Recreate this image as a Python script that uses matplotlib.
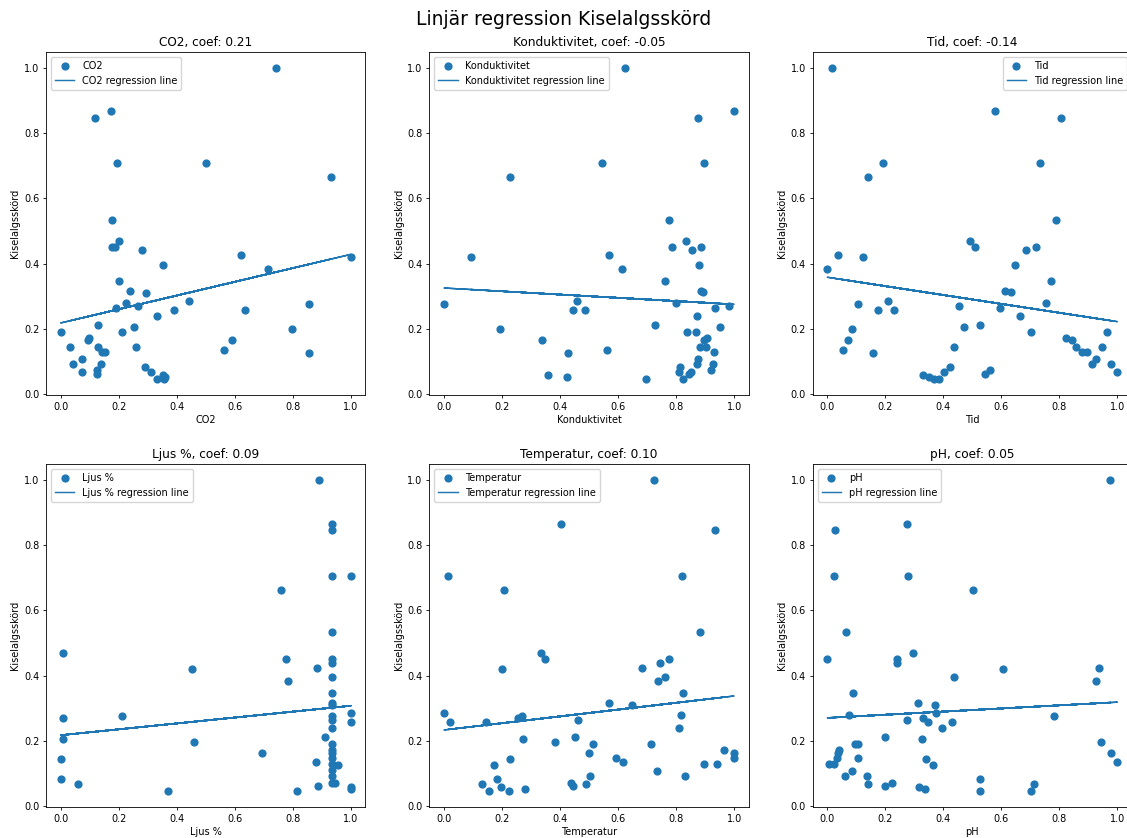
import matplotlib
matplotlib.use("Agg")
import numpy as np
import matplotlib.pyplot as plt

# ------------------------------------------------------------------
# Data (normalised 0-1)
# ------------------------------------------------------------------

features = ["CO2", "Konduktivitet", "Tid", "Ljus %", "Temperatur", "pH"]

co2_x = [0.741, 0.172, 0.118, 0.193, 0.502, 0.932, 0.176, 0.202, 0.178, 0.187,
         0.280, 0.621, 1.000, 0.351, 0.714, 0.202, 0.238, 0.294, 0.443, 0.225,
         0.855, 0.266, 0.189, 0.391, 0.636, 0.332, 0.130, 0.251, 0.798, 0.000,
         0.210, 0.099, 0.095, 0.590, 0.031, 0.130, 0.261, 0.141, 0.153, 0.564,
         0.855, 0.072, 0.041, 0.138, 0.292, 0.075, 0.124, 0.124, 0.311, 0.333,
         0.351, 0.360, 0.357]
co2_y = [1.000, 0.867, 0.847, 0.707, 0.707, 0.664, 0.533, 0.470, 0.451, 0.451,
         0.441, 0.425, 0.421, 0.396, 0.384, 0.348, 0.315, 0.311, 0.285, 0.279,
         0.275, 0.270, 0.265, 0.258, 0.258, 0.238, 0.213, 0.206, 0.198, 0.190,
         0.190, 0.172, 0.166, 0.166, 0.145, 0.145, 0.143, 0.129, 0.129, 0.135,
         0.125, 0.109, 0.092, 0.092, 0.084, 0.069, 0.074, 0.062, 0.069, 0.047,
         0.058, 0.051, 0.045]

kond_x = [0.622, 0.999, 0.876, 0.543, 0.896, 0.228, 0.774, 0.835, 0.784, 0.853,
          0.885, 0.092, 0.568, 0.878, 0.614, 0.761, 0.886, 0.893, 0.458, 0.800,
          0.000, 0.980, 0.444, 0.485, 0.933, 0.873, 0.726, 0.950, 0.193, 0.837,
          0.867, 0.907, 0.897, 0.339, 0.883, 0.901, 0.561, 0.929, 0.426, 0.876,
          0.870, 0.926, 0.813, 0.809, 0.918, 0.850, 0.844, 0.357, 0.425, 0.824,
          0.697]
kond_y = [1.000, 0.867, 0.847, 0.707, 0.707, 0.664, 0.533, 0.470, 0.451, 0.441,
          0.451, 0.421, 0.425, 0.396, 0.384, 0.348, 0.315, 0.312, 0.285, 0.279,
          0.275, 0.271, 0.258, 0.258, 0.265, 0.238, 0.213, 0.206, 0.198, 0.190,
          0.190, 0.172, 0.166, 0.166, 0.145, 0.145, 0.135, 0.129, 0.125, 0.109,
          0.092, 0.092, 0.084, 0.069, 0.074, 0.069, 0.063, 0.058, 0.051, 0.047,
          0.045]

tid_x = [0.016, 0.578, 0.807, 0.193, 0.735, 0.140, 0.788, 0.492, 0.509, 0.685,
         0.719, 0.036, 0.124, 0.648, 0.000, 0.772, 0.614, 0.632, 0.210, 0.753,
         0.106, 0.455, 0.175, 0.229, 0.595, 0.665, 0.525, 0.471, 0.086, 0.702,
         0.963, 0.823, 0.842, 0.070, 0.858, 0.946, 0.438, 0.053, 0.877, 0.896,
         0.159, 0.928, 0.911, 0.979, 0.422, 0.561, 1.000, 0.403, 0.544, 0.331,
         0.351, 0.385, 0.368]
tid_y = [1.000, 0.867, 0.847, 0.707, 0.707, 0.664, 0.533, 0.470, 0.451, 0.441,
         0.451, 0.425, 0.421, 0.396, 0.384, 0.348, 0.316, 0.312, 0.285, 0.279,
         0.275, 0.271, 0.258, 0.258, 0.265, 0.238, 0.213, 0.206, 0.198, 0.190,
         0.190, 0.172, 0.166, 0.166, 0.145, 0.145, 0.143, 0.135, 0.129, 0.129,
         0.125, 0.109, 0.092, 0.092, 0.084, 0.074, 0.069, 0.069, 0.062, 0.058,
         0.051, 0.047, 0.045]

ljus_x = [0.892, 0.937, 0.937, 0.937, 1.000, 0.761, 0.937, 0.007, 0.778, 0.937,
          0.937, 0.452, 0.885, 0.937, 0.782, 0.937, 0.937, 0.937, 1.000, 0.007,
          0.213, 0.937, 0.937, 1.000, 0.937, 0.910, 0.007, 0.459, 0.937, 0.937,
          0.937, 0.695, 0.937, 0.000, 0.879, 0.937, 0.955, 0.937, 0.937, 0.000,
          0.937, 0.946, 0.061, 0.886, 1.000, 1.000, 0.371, 0.816]
ljus_y = [1.000, 0.865, 0.846, 0.706, 0.706, 0.663, 0.533, 0.470, 0.451, 0.451,
          0.440, 0.420, 0.424, 0.395, 0.385, 0.348, 0.316, 0.310, 0.286, 0.271,
          0.276, 0.278, 0.263, 0.257, 0.239, 0.213, 0.206, 0.198, 0.191, 0.172,
          0.165, 0.165, 0.149, 0.144, 0.135, 0.130, 0.126, 0.111, 0.094, 0.084,
          0.073, 0.073, 0.069, 0.063, 0.058, 0.053, 0.048, 0.046]

temp_x = [0.723, 0.404, 0.935, 0.015, 0.820, 0.206, 0.881, 0.333, 0.348, 0.745,
          0.774, 0.200, 0.683, 0.762, 0.738, 0.824, 0.569, 0.649, 0.000, 0.254,
          0.270, 0.817, 0.020, 0.145, 0.460, 0.811, 0.451, 0.272, 0.381, 0.514,
          0.714, 0.966, 0.501, 0.999, 0.999, 0.226, 0.594, 0.615, 0.896, 0.939,
          0.173, 0.734, 0.503, 0.830, 0.182, 0.132, 0.436, 0.444, 0.489, 0.197,
          0.279, 0.154, 0.224]
temp_y = [1.000, 0.865, 0.846, 0.706, 0.706, 0.663, 0.533, 0.470, 0.451, 0.440,
          0.451, 0.420, 0.424, 0.395, 0.385, 0.348, 0.316, 0.310, 0.286, 0.271,
          0.276, 0.280, 0.257, 0.257, 0.264, 0.239, 0.213, 0.206, 0.198, 0.191,
          0.191, 0.172, 0.165, 0.165, 0.147, 0.144, 0.147, 0.135, 0.130, 0.130,
          0.126, 0.109, 0.092, 0.092, 0.084, 0.069, 0.073, 0.063, 0.069, 0.058,
          0.052, 0.048, 0.046]

ph_x = [0.975, 0.275, 0.026, 0.024, 0.279, 0.503, 0.063, 0.294, 0.000, 0.242,
        0.240, 0.607, 0.938, 0.436, 0.928, 0.089, 0.313, 0.373, 0.375, 0.075,
        0.782, 0.329, 0.276, 0.346, 0.431, 0.396, 0.200, 0.325, 0.096, 0.106,
        0.943, 0.041, 0.037, 0.978, 0.033, 0.106, 0.339, 0.007, 0.024, 1.000,
        0.366, 0.084, 0.062, 0.138, 0.525, 0.142, 0.711, 0.224, 0.200, 0.315,
        0.338, 0.528, 0.702]
ph_y = [1.000, 0.865, 0.846, 0.706, 0.706, 0.663, 0.533, 0.470, 0.451, 0.451,
        0.440, 0.420, 0.424, 0.395, 0.385, 0.348, 0.316, 0.310, 0.286, 0.280,
        0.276, 0.271, 0.264, 0.257, 0.257, 0.239, 0.213, 0.206, 0.191, 0.191,
        0.198, 0.172, 0.165, 0.165, 0.147, 0.147, 0.144, 0.130, 0.130, 0.135,
        0.126, 0.109, 0.092, 0.092, 0.084, 0.069, 0.069, 0.073, 0.063, 0.058,
        0.052, 0.046, 0.048]

# regression line per feature (slope, intercept)
slopes = [0.21, -0.05, -0.136, 0.09, 0.104, 0.048]
intercepts = [0.218, 0.325, 0.358, 0.218, 0.234, 0.271]

xs = [co2_x, kond_x, tid_x, ljus_x, temp_x, ph_x]
ys = [co2_y, kond_y, tid_y, ljus_y, temp_y, ph_y]
legend_locs = ["upper left", "upper left", "upper right",
               "upper left", "upper left", "upper left"]

# ------------------------------------------------------------------
# Plot (original was rendered larger and scaled down, so small fonts)
# ------------------------------------------------------------------

plt.rcParams["font.size"] = 7
plt.rcParams["axes.linewidth"] = 0.6
plt.rcParams["xtick.major.size"] = 2.5
plt.rcParams["ytick.major.size"] = 2.5
plt.rcParams["xtick.major.width"] = 0.6
plt.rcParams["ytick.major.width"] = 0.6
plt.rcParams["xtick.major.pad"] = 2.5
plt.rcParams["ytick.major.pad"] = 2.5

fig = plt.figure(figsize=(11.27, 8.38), dpi=100)
fig.suptitle("Linjär regression Kiselalgsskörd", fontsize=13.5, y=0.988)

lefts = [0.0410, 0.3811, 0.7212]
bottoms = [0.5286, 0.0370]
w, h = 0.2831, 0.4093

for i, name in enumerate(features):
    ax = fig.add_axes([lefts[i % 3], bottoms[i // 3], w, h])
    x = np.array(xs[i])
    y = np.array(ys[i])
    ax.scatter(x, y, s=24, label=name)
    pred = intercepts[i] + slopes[i] * x
    ax.plot(x, pred, lw=1.05, label=f"{name} regression line")
    ax.set_title(f"{name}, coef: {slopes[i]:.2f}", fontsize=8.7, pad=4)
    ax.set_xlabel(name, labelpad=2.5)
    ax.set_ylabel("Kiselalgsskörd", labelpad=2.5)
    ax.legend(loc=legend_locs[i], fontsize=7)

plt.savefig("out.png", dpi=100)
plt.close()
